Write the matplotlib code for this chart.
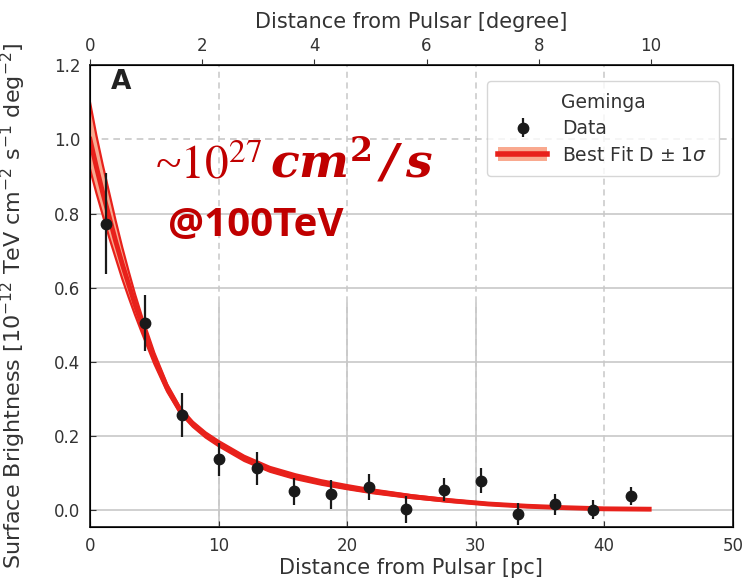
import numpy as np
import matplotlib
matplotlib.use("Agg")
import matplotlib.pyplot as plt
from matplotlib.lines import Line2D
from matplotlib.patches import Patch
from matplotlib.legend_handler import HandlerTuple


# Measured surface brightness profile (distance in pc).
DIST_PC = [1.28, 4.24, 7.12, 10.0, 12.96, 15.9, 18.75, 21.7, 24.6, 27.5, 30.4, 33.3, 36.2, 39.1, 42.1]
BRIGHTNESS = [0.773, 0.505, 0.257, 0.137, 0.113, 0.051, 0.043, 0.062, 0.003, 0.056, 0.080, -0.009, 0.016, 0.002, 0.038]
BRIGHTNESS_ERR = [0.136, 0.076, 0.059, 0.045, 0.045, 0.037, 0.040, 0.035, 0.036, 0.030, 0.033, 0.030, 0.028, 0.026, 0.025]

# Best fit diffusion profile and its 1 sigma band.
FIT_PC = [0, 0.5, 1, 1.5, 2, 2.5, 3, 3.5, 4, 5, 6, 7, 8, 9, 10, 12, 14, 16, 18, 20, 22, 25, 28, 31, 34, 37, 40, 43.5]
FIT_MID = [1.00, 0.925, 0.855, 0.79, 0.725, 0.665, 0.61, 0.555, 0.505, 0.41, 0.33, 0.27, 0.232, 0.203, 0.18,
           0.14, 0.11, 0.09, 0.075, 0.062, 0.051, 0.037, 0.026, 0.017, 0.011, 0.007, 0.004, 0.003]
FIT_HIGH = [1.10, 1.01, 0.93, 0.855, 0.78, 0.71, 0.645, 0.583, 0.527, 0.425, 0.34, 0.278, 0.239, 0.21, 0.187,
            0.147, 0.117, 0.097, 0.081, 0.068, 0.056, 0.041, 0.029, 0.019, 0.013, 0.008, 0.005, 0.004]
FIT_LOW = [0.92, 0.855, 0.795, 0.735, 0.68, 0.625, 0.575, 0.527, 0.482, 0.395, 0.32, 0.262, 0.225, 0.196, 0.173,
           0.133, 0.104, 0.084, 0.069, 0.057, 0.046, 0.033, 0.023, 0.015, 0.009, 0.006, 0.003, 0.002]

PC_PER_DEG = 250 * np.pi / 180  # Geminga at 250 pc

RED = "#e8211b"
SALMON = "#f9a98f"
DARK_RED = "#c00000"
GRID = "#c8c8c8"
TEXT = "#333333"

fig = plt.figure(figsize=(7.5, 5.82), dpi=100)
ax = fig.add_axes([0.12, 0.0945, 0.857, 0.7935])

# grid: solid in the lower part, dashed guides running the full height
for y in [0.0, 0.2, 0.4, 0.6, 0.8]:
    ax.axhline(y, color=GRID, lw=1.2, zorder=0)
ax.axhline(1.0, color=GRID, lw=1.2, ls=(0, (4, 3)), zorder=0)
for x in [10, 20, 30]:
    ax.plot([x, x], [-0.045, 0.56], color=GRID, lw=1.2, zorder=0)
for x in [10, 20, 30, 40]:
    ax.axvline(x, color=GRID, lw=1.1, ls=(0, (4, 3)), zorder=0)

ax.fill_between(FIT_PC, FIT_LOW, FIT_HIGH, color=SALMON, lw=0, zorder=2)
ax.plot(FIT_PC, FIT_HIGH, color=RED, lw=1.6, zorder=3)
ax.plot(FIT_PC, FIT_LOW, color=RED, lw=1.6, zorder=3)
ax.plot(FIT_PC, FIT_MID, color=RED, lw=3.5, zorder=3)

data = ax.errorbar(DIST_PC, BRIGHTNESS, yerr=BRIGHTNESS_ERR, fmt="o", color="#1a1a1a",
                   ms=7.5, elinewidth=1.6, capsize=0, zorder=4)

ax.set_xlim(0, 50)
ax.set_ylim(-0.045, 1.2)
ax.set_xticks([0, 10, 20, 30, 40, 50])
ax.set_yticks([0.0, 0.2, 0.4, 0.6, 0.8, 1.0, 1.2])
ax.set_yticklabels(["0.0", "0.2", "0.4", "0.6", "0.8", "1.0", "1.2"])
ax.tick_params(direction="in", length=4, labelsize=12, colors=TEXT, pad=7)
ax.set_xlabel("Distance from Pulsar [pc]", fontsize=15, color=TEXT, labelpad=2)
ax.set_ylabel(r"Surface Brightness [$10^{-12}$ TeV cm$^{-2}$ s$^{-1}$ deg$^{-2}$]",
              fontsize=16, color=TEXT)
ax.yaxis.set_label_coords(-0.097, 0.48)
for s in ax.spines.values():
    s.set_color("#222222")
    s.set_linewidth(1.3)

top = ax.twiny()
top.set_xlim(0, 50 / PC_PER_DEG)
top.set_xticks([0, 2, 4, 6, 8, 10])
top.tick_params(direction="out", length=4, labelsize=12, colors=TEXT, pad=3)
top.set_xlabel("Distance from Pulsar [degree]", fontsize=15, color=TEXT, labelpad=7)

ax.text(0.048, 0.963, "A", transform=ax.transAxes, fontsize=19, fontweight="bold",
        color="#222222", va="center", ha="center")

# diffusion coefficient annotation
ax.text(0.101, 0.755, r"~$10^{27}$", transform=ax.transAxes,
        fontsize=34, color=DARK_RED, family="Liberation Serif", math_fontfamily="stix",
        ha="left", va="baseline")
ax.text(0.28, 0.755, r"$\mathbfit{cm}^{\mathbf{2}}\,\mathbfit{/}\,\mathbfit{s}$", transform=ax.transAxes,
        fontsize=34, color=DARK_RED, math_fontfamily="dejavuserif",
        ha="left", va="baseline")
ax.text(0.121, 0.63, "@100TeV", transform=ax.transAxes, fontsize=29, fontweight="bold",
        color=DARK_RED, family="Open Sans", ha="left", va="baseline")

fit_handle = (Patch(facecolor=SALMON, edgecolor="none"), Line2D([], [], color=RED, lw=4))
leg = ax.legend([data, fit_handle], ["Data", r"Best Fit D $\pm$ 1$\sigma$"], title="Geminga",
                loc="upper right", bbox_to_anchor=(0.978, 0.965), borderaxespad=0,
                fontsize=13.5, title_fontsize=13.5,
                handler_map={tuple: HandlerTuple(ndivide=1)}, frameon=True, fancybox=True,
                borderpad=0.6, handlelength=2.6, labelspacing=0.4)
leg.get_frame().set_edgecolor("#cccccc")
for t in leg.get_texts():
    t.set_color(TEXT)
leg.get_title().set_color(TEXT)

fig.savefig("out.png", dpi=100)
